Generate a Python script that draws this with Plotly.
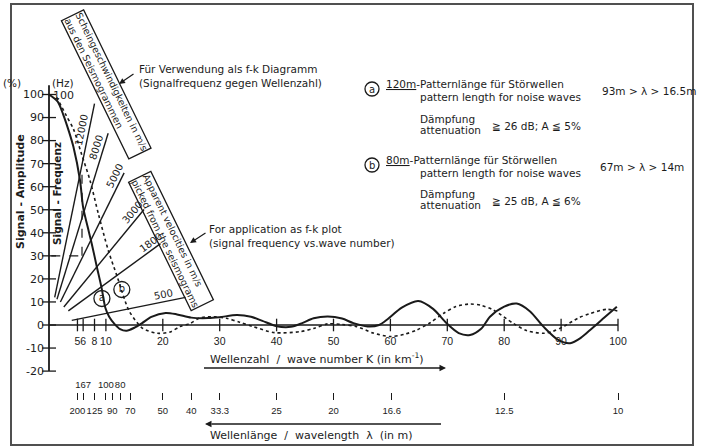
import math
import plotly.graph_objects as go

# ---------------------------------------------------------------------------
# Data
# ---------------------------------------------------------------------------
# wave number axis K (1/km) and amplitude / frequency axis (% resp. Hz)
k_ticks = [5, 6, 8, 10, 20, 30, 40, 50, 60, 70, 80, 90, 100]
amp_ticks = [-20, -10, 0, 10, 20, 30, 40, 50, 60, 70, 80, 90, 100]

# wavelength scale (m), lambda = 1000 / K
wavelength_lower = [200, 125, 90, 70, 50, 40, 33.3, 25, 20, 16.6, 12.5, 10]
wavelength_lower_text = ["200", "125", "90", "70", "50", "40", "33.3", "25",
                         "20", "16.6", "12.5", "10"]
wavelength_upper = [167, 100, 80]
wavelength_upper_text = ["167", "100", "80"]

# apparent velocities (m/s) of the f-k fan, f = v * K / 1000
velocities = [12000, 8000, 5000, 3000, 1800, 500]
velocity_text = ["12000", "8000", "5000", "3000", "1800", "500"]
vel_k_start = [1.0, 1.4, 2.0, 2.6, 3.4, 4.0]
vel_k_end = [8.0, 10.4, 13.2, 16.7, 19.6, 24.0]
vel_label_k = [7.0, 9.5, 12.7, 15.6, 18.6, 20.4]

# response of pattern (a): 120 m pattern length
resp_a_k = [0, 1.5, 2.5, 3.5, 4.3, 5.45, 6.0, 7.0, 7.5, 8.4, 9.26, 9.9, 10.6,
            11.5, 12.5, 13.65, 15.0, 16.3, 18.0, 20.5, 22.5, 25.0, 28.0, 30.0,
            33.0, 35.5, 37.5, 40.0, 42.5, 44.5, 46.5, 49.0, 51.5, 53.5, 56.0,
            58.0, 59.5, 62.0, 64.9, 67.5, 69.9, 72.0, 74.0, 76.0, 77.5, 80.0,
            82.2, 84.5, 86.9, 89.5, 91.6, 93.5, 95.1, 97.5, 99.8]
resp_a_amp = [100, 97, 91.3, 84, 77.2, 62.8, 51, 40.5, 35.4, 25.3, 15.9, 7.5,
              3.5, 0.5, -1.8, -2.5, -1.2, 0.7, 3.5, 5.2, 4.6, 3.2, 3.0, 3.4,
              4.3, 3.6, 1.8, -0.5, -0.8, 0.8, 2.9, 3.7, 2.8, 0.8, -0.6,
              0.0, 2.5, 7.5, 10.4, 7.0, 0.7, -3.5, -4.3, -1.5, 3.6, 8.0,
              9.3, 6.0, -0.7, -6.5, -7.9, -5.5, -2.2, 3.0, 7.9]

# response of pattern (b): 80 m pattern length
resp_b_k = [1.35, 3.0, 4.3, 5.7, 7.2, 8.7, 10.4, 11.9, 14.0, 15.5, 16.5, 19.0,
            21.3, 23.0, 24.8, 26.5, 28.9, 31.2, 33.5, 35.9, 39.6, 44.1, 46.5,
            49.0, 51.5, 54.1, 57.0, 60.0, 62.5, 64.6, 67.0, 69.3, 71.5, 74.0,
            76.0, 78.1, 81.6, 84.0, 86.9, 88.5, 90.4, 93.0, 95.1, 98.0, 100.4]
resp_b_amp = [98.8, 91, 85, 74.3, 62.8, 48, 32.5, 21.6, 6.5, 1.0, -1.5, -3.6,
              -3.0, -0.7, 0.7, 3.0, 3.6, 2.9, 1.2, -0.7, -3.3, -2.9, -1.5,
              0.5, 0.2, -0.7, -3.5, -5.0, -4.0, -2.2, 1.0, 5.0, 8.0, 9.1,
              8.5, 6.5, 0.7, -2.5, -3.6, -2.8, -0.7, 3.0, 5.0, 6.8, 5.8]

# circled curve labels
curve_label_text = ["a", "b"]
curve_label_k = [9.3, 12.8]
curve_label_amp = [11.5, 15.4]

# ---------------------------------------------------------------------------
# Geometry of the drawing (pixels)
# ---------------------------------------------------------------------------
W, H = 702, 447
X0_PX, PX_PER_K = 49.0, 5.69          # K = 0 position, pixels per 1/km
Y0_PX, PX_PER_PCT = 325.0, 2.305      # amplitude 0 position, pixels per %

k_range = [-X0_PX / PX_PER_K, (W - X0_PX) / PX_PER_K]
amp_range = [-(H - Y0_PX) / PX_PER_PCT, Y0_PX / PX_PER_PCT]


def px_x(px):
    return px / W


def px_y(py):
    return 1 - py / H


INK = "#1a1a1a"
TEXT = "#1c1c1c"
FONT = "DejaVu Sans"
NUM_FONT = "Liberation Sans"

fig = go.Figure()

# axes lines
fig.add_trace(go.Scatter(x=[0, 100], y=[0, 0], mode="lines",
                         line=dict(color=INK, width=1.6), hoverinfo="skip"))
fig.add_trace(go.Scatter(x=[0, 0], y=[amp_ticks[0], 104], mode="lines",
                         line=dict(color=INK, width=1.8), hoverinfo="skip"))
# tick marks crossing the axes
fig.add_trace(go.Scatter(x=k_ticks, y=[0] * len(k_ticks), mode="markers",
                         marker=dict(symbol="line-ns", size=9,
                                     line=dict(color=INK, width=1.3)),
                         hoverinfo="skip"))
fig.add_trace(go.Scatter(x=[0] * len(amp_ticks), y=amp_ticks, mode="markers",
                         marker=dict(symbol="line-ew", size=10,
                                     line=dict(color=INK, width=1.3)),
                         hoverinfo="skip"))

# f-k fan of apparent velocities
for v, k0, k1 in zip(velocities, vel_k_start, vel_k_end):
    fig.add_trace(go.Scatter(x=[k0, k1], y=[v * k0 / 1000, v * k1 / 1000],
                             mode="lines", line=dict(color=INK, width=1.4),
                             hoverinfo="skip"))

# construction at 30 %
fig.add_trace(go.Scatter(x=[0.4, 5.2], y=[30, 30], mode="lines",
                         line=dict(color=INK, width=1.2, dash="dash"),
                         hoverinfo="skip"))
fig.add_trace(go.Scatter(x=[5.8, 5.8], y=[30, 68], mode="lines",
                         line=dict(color=INK, width=1.2, dash="dash"),
                         hoverinfo="skip"))

# pattern responses
fig.add_trace(go.Scatter(x=resp_a_k, y=resp_a_amp, mode="lines",
                         line=dict(color=INK, width=2.0, shape="spline",
                                   smoothing=0.8), hoverinfo="skip"))
fig.add_trace(go.Scatter(x=resp_b_k, y=resp_b_amp, mode="lines",
                         line=dict(color=INK, width=1.6, dash="dot",
                                   shape="spline", smoothing=0.8),
                         hoverinfo="skip"))

# circled curve labels
fig.add_trace(go.Scatter(x=curve_label_k, y=curve_label_amp,
                         mode="markers+text", text=curve_label_text,
                         textposition="middle center",
                         textfont=dict(family=FONT, size=10, color=TEXT),
                         marker=dict(symbol="circle-open", size=16, color=INK,
                                     line=dict(width=1.3)),
                         hoverinfo="skip"))

# wavelength scale (carried by two overlaying axes)
k_lower = [1000 / lam for lam in wavelength_lower]
k_upper = [1000 / lam for lam in wavelength_upper]
fig.add_trace(go.Scatter(x=k_lower, y=[0] * len(k_lower), xaxis="x2",
                         mode="markers", marker=dict(opacity=0),
                         hoverinfo="skip"))
fig.add_trace(go.Scatter(x=k_upper, y=[0] * len(k_upper), xaxis="x3",
                         mode="markers", marker=dict(opacity=0),
                         hoverinfo="skip"))

all_wave_k = k_lower + k_upper
all_wave_text = wavelength_lower_text + [""] * len(k_upper)

axis_common = dict(showgrid=False, zeroline=False, showline=False,
                   tickangle=0, fixedrange=True)

fig.update_layout(
    width=W, height=H, margin=dict(l=0, r=0, t=0, b=0),
    paper_bgcolor="white", plot_bgcolor="white", showlegend=False,
    font=dict(family=FONT, color=TEXT, size=11),
    xaxis=dict(range=k_range, anchor="free", position=px_y(Y0_PX),
               tickvals=k_ticks, ticktext=[str(t) for t in k_ticks],
               ticks="", ticklabelstandoff=8,
               tickfont=dict(family=NUM_FONT, size=10.5), **axis_common),
    yaxis=dict(range=amp_range, anchor="free", position=px_x(X0_PX),
               tickvals=amp_ticks, ticktext=[str(t) for t in amp_ticks],
               ticks="", ticklabelstandoff=5,
               tickfont=dict(size=11), **axis_common),
    xaxis2=dict(range=k_range, overlaying="x", anchor="free",
                position=px_y(400), side="bottom",
                tickvals=all_wave_k, ticktext=all_wave_text,
                ticks="inside", ticklen=7, tickwidth=1.3, tickcolor=INK,
                ticklabelstandoff=3,
                tickfont=dict(family=NUM_FONT, size=9.5), **axis_common),
    xaxis3=dict(range=k_range, overlaying="x", anchor="free",
                position=px_y(393), side="top",
                tickvals=k_upper, ticktext=wavelength_upper_text,
                ticks="", ticklabelstandoff=3,
                tickfont=dict(family=NUM_FONT, size=9.5), **axis_common),
)

# outer frame
fig.add_shape(type="rect", xref="paper", yref="paper",
              x0=px_x(11), x1=px_x(693), y0=px_y(445), y1=px_y(4),
              line=dict(color="#505050", width=2))

# axis titles with arrows
fig.add_shape(type="line", xref="paper", yref="paper",
              x0=px_x(204), x1=px_x(440), y0=px_y(368), y1=px_y(368),
              line=dict(color=INK, width=1.3))
fig.add_annotation(xref="paper", yref="paper", x=px_x(446), y=px_y(368),
                   ax=-8, ay=0, text="", showarrow=True, arrowhead=2,
                   arrowsize=1, arrowwidth=1.3, arrowcolor=INK)
fig.add_shape(type="line", xref="paper", yref="paper",
              x0=px_x(212), x1=px_x(441), y0=px_y(424), y1=px_y(424),
              line=dict(color=INK, width=1.3))
fig.add_annotation(xref="paper", yref="paper", x=px_x(205), y=px_y(424),
                   ax=8, ay=0, text="", showarrow=True, arrowhead=2,
                   arrowsize=1, arrowwidth=1.3, arrowcolor=INK)


def note(text, px, py, size=11, xanchor="left", yanchor="middle",
         angle=0, **kw):
    fig.add_annotation(xref="paper", yref="paper", x=px_x(px), y=px_y(py),
                       text=text, showarrow=False, xanchor=xanchor,
                       yanchor=yanchor, textangle=angle,
                       font=dict(family=FONT, size=size, color=TEXT), **kw)


note("Wellenzahl  /  wave number K (in km<sup>-1</sup>)", 208, 358)
note("Wellenlänge  /  wavelength  λ  (in m)", 208, 435)

# vertical axis titles and units
note("<b>Signal - Amplitude</b>", 20, 192, size=11, xanchor="center", angle=-90)
note("<b>Signal - Frequenz</b>", 57, 194, size=10.5, xanchor="center", angle=-90)
note("(%)", 12, 83, size=10.5, xanchor="center")
note("(Hz)", 63, 83, size=10.5, xanchor="center")
note("100", 63, 95, size=11, xanchor="center")

# velocity labels, written along each fan line
for v, txt, kl in zip(velocities, velocity_text, vel_label_k):
    slope_px = (v / 1000) * PX_PER_PCT / PX_PER_K
    theta = math.atan(slope_px)
    fig.add_annotation(x=kl, y=v * kl / 1000, text=txt, showarrow=False,
                       textangle=-math.degrees(theta),
                       xshift=-7 * math.sin(theta), yshift=7 * math.cos(theta),
                       font=dict(family=FONT, size=10, color=TEXT))

# boxed titles of the velocity fan
fig.add_annotation(xref="paper", yref="paper", x=px_x(106), y=px_y(84),
                   xanchor="center", yanchor="middle",
                   text="Scheingeschwindigkeiten in m/s<br>aus den Seismogrammen",
                   showarrow=False, textangle=64, align="left",
                   bordercolor=INK, borderwidth=1.3, borderpad=0,
                   font=dict(family=FONT, size=9.5, color=TEXT))
fig.add_annotation(xref="paper", yref="paper", x=px_x(171), y=px_y(241),
                   xanchor="center", yanchor="middle",
                   text="Apparent velocities in m/s<br>picked from the seismograms",
                   showarrow=False, textangle=64, align="left",
                   bordercolor=INK, borderwidth=1.3, borderpad=0,
                   font=dict(family=FONT, size=9.5, color=TEXT))

# f-k usage notes with pointers
note("Für Verwendung als f-k Diagramm<br>(Signalfrequenz gegen Wellenzahl)",
     137, 76, size=10.5, align="left")
fig.add_annotation(xref="paper", yref="paper", x=px_x(119), y=px_y(84),
                   ax=16, ay=-11, text="", showarrow=True, arrowhead=2,
                   arrowsize=1, arrowwidth=1.2, arrowcolor=INK)
note("For application as f-k plot<br>(signal frequency vs.wave number)",
     207, 236, size=10.5, align="left")
fig.add_annotation(xref="paper", yref="paper", x=px_x(190), y=px_y(243),
                   ax=17, ay=-11, text="", showarrow=True, arrowhead=2,
                   arrowsize=1, arrowwidth=1.2, arrowcolor=INK)

# pattern descriptions
for letter, cy in (("a", 89), ("b", 165)):
    fig.add_shape(type="circle", xref="paper", yref="paper",
                  x0=px_x(365), x1=px_x(379), y0=px_y(cy + 7), y1=px_y(cy - 7),
                  line=dict(color=INK, width=1.3))
    note(letter, 372, cy, size=10, xanchor="center")

note("<u>120m</u>-Patternlänge für Störwellen", 384, 84, size=10.5)
note("pattern length for noise waves", 418, 97, size=10.5)
note("93m > λ > 16.5m", 600, 91, size=10.5)
note("Dämpfung", 418, 119, size=10.5)
note("attenuation", 418, 130, size=10.5)
note("≧ 26 dB; A ≦ 5%", 490, 126, size=10.5)

note("<u>80m</u>-Patternlänge für Störwellen", 384, 160, size=10.5)
note("pattern length for noise waves", 418, 173, size=10.5)
note("67m > λ > 14m", 598, 167, size=10.5)
note("Dämpfung", 418, 194, size=10.5)
note("attenuation", 418, 205, size=10.5)
note("≧ 25 dB, A ≦ 6%", 490, 201, size=10.5)

fig.write_html("out.html", config={"displayModeBar": False})
